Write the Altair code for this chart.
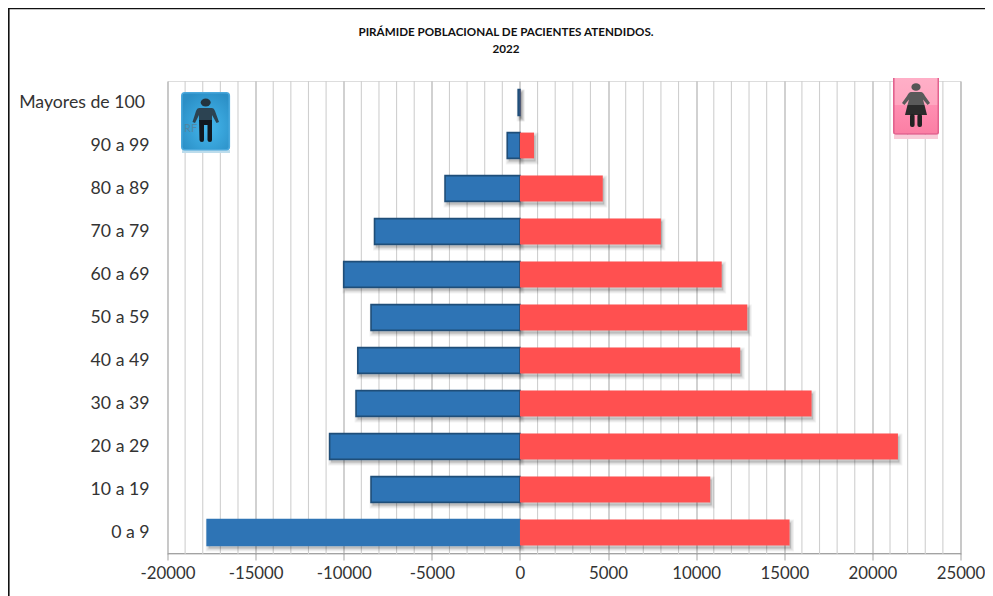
import urllib.parse
import altair as alt
import pandas as pd

ages = ["0 a 9", "10 a 19", "20 a 29", "30 a 39", "40 a 49", "50 a 59",
        "60 a 69", "70 a 79", "80 a 89", "90 a 99", "Mayores de 100"]
hombres = [-17750, -8450, -10800, -9300, -9200, -8450, -10000, -8250, -4250, -720, -100]
mujeres = [15300, 10800, 21450, 16550, 12500, 12900, 11450, 8000, 4700, 800, 10]
major_ticks = [-20000, -15000, -10000, -5000, 0, 5000, 10000, 15000, 20000, 25000]
minor_ticks = [-19000, -18000, -17000, -16000, -14000, -13000, -12000, -11000, -9000, -8000,
               -7000, -6000, -4000, -3000, -2000, -1000, 1000, 2000, 3000, 4000, 6000, 7000,
               8000, 9000, 11000, 12000, 13000, 14000, 16000, 17000, 18000, 19000, 21000,
               22000, 23000, 24000]
title_lines = ["PIRÁMIDE POBLACIONAL DE  PACIENTES ATENDIDOS.", "2022"]

FONT = "Lato"
INK = "#333333"

df = pd.DataFrame({"edad": ages, "hombres": hombres, "mujeres": mujeres, "cero": [0] * len(ages)})

man_svg = """<svg xmlns='http://www.w3.org/2000/svg' width='50' height='62' viewBox='0 0 50 62'>
<defs><radialGradient id='g' cx='.55' cy='.6' r='.65'><stop offset='0' stop-color='#45b8ee'/><stop offset='1' stop-color='#2b8fc6'/></radialGradient></defs>
<rect x='1' y='58' width='48' height='3' fill='#bcdcec'/>
<rect x='.8' y='.8' width='47.5' height='57' rx='3' fill='url(#g)' stroke='#4aa8dc' stroke-width='1.6'/>
<ellipse cx='24.7' cy='10.5' rx='5' ry='4' fill='#24343f'/>
<path d='M18 16 H31 Q33 16 34 19 L38 30 L35.5 31 L31 23 V29 H18 V23 L14 31 L11.5 30 L15 19 Q16 16 18 16 Z' fill='#2c4352'/>
<path d='M18 28 H31 V48 Q31 50 29 50 Q26.5 50 26.5 48 V33 H23 V48 Q23 50 21 50 Q18.5 50 18.5 48 Z' fill='#111820'/>
</svg>"""

woman_svg = """<svg xmlns='http://www.w3.org/2000/svg' width='46' height='62' viewBox='0 0 46 62'>
<defs><linearGradient id='p' x1='0' y1='0' x2='0' y2='1'><stop offset='0' stop-color='#ffb0c8'/><stop offset='.5' stop-color='#ffa6c0'/><stop offset='.51' stop-color='#ff8fb2'/><stop offset='1' stop-color='#fb7ea4'/></linearGradient></defs>
<rect x='1' y='57' width='44' height='4' fill='#f8cbd8'/>
<rect x='.8' y='-3' width='44.5' height='59' rx='2' fill='url(#p)' stroke='#e2628e' stroke-width='1.6'/>
<ellipse cx='23' cy='9' rx='4.6' ry='3.8' fill='#555555'/>
<path d='M18 14 H28 Q30 14 32 18 L37 25 L34.6 27 L30 21.5 L31.5 27 H14.5 L16 21.5 L11.4 27 L9 25 L14 18 Q16 14 18 14 Z' fill='#5a5a5a'/>
<path d='M14.5 27 H31.5 L34 37 H12 Z' fill='#2b2b2b'/>
<rect x='17' y='36' width='4.6' height='13' rx='2' fill='#222'/>
<rect x='24.4' y='36' width='4.6' height='13' rx='2' fill='#222'/>
</svg>"""


def data_uri(svg):
    return "data:image/svg+xml," + urllib.parse.quote(svg.replace("\n", ""))


x_scale = alt.Scale(domain=[-20000, 25000], nice=False, zero=False)
y_scale = alt.Scale(domain=ages[::-1], paddingInner=0.4, paddingOuter=0.2)


def X(f):
    return alt.X(f, type="quantitative", scale=x_scale, title=None, stack=None)


x_axis = alt.Axis(values=major_ticks, grid=True, gridColor="#a3a3a3", gridWidth=1, offset=-1,
                  domain=True, domainColor="#a3a3a3", domainWidth=1.2,
                  ticks=True, tickColor="#a3a3a3", tickSize=7, tickWidth=1,
                  labelFont=FONT, labelFontSize=16.8, labelColor=INK, labelPadding=5,
                  labelOverlap=False, labelFlush=False, labelExpr="'' + datum.value", title=None)
y_axis = alt.Axis(ticks=False, domain=False, grid=False, labelFont=FONT, labelFontSize=17.7,
                  labelColor=INK, labelPadding=18.5, title=None, labelOverlap=False,
                  labelExpr=f"datum.value == '{ages[-1]}' ? '' : datum.label")

minor = alt.Chart(pd.DataFrame({"v": minor_ticks})).mark_rule(color="#cfcfcf", strokeWidth=1.1).encode(
    x=alt.X("v:Q", scale=x_scale, title=None, axis=x_axis))
base = alt.Chart(df)
Y = alt.Y("edad:N", scale=y_scale, sort=ages[::-1], axis=y_axis, title=None)


def shadow(field, spread):
    return base.mark_bar(fill="#000000", fillOpacity=0.05, stroke="#000000", strokeOpacity=0.05,
                         strokeWidth=spread, xOffset=1.5, x2Offset=1.5, yOffset=3, y2Offset=3).encode(
        x=X(field), x2="cero:Q", y=Y)


male = base.mark_bar(fill="#2e74b5", strokeWidth=1.6).encode(
    x=X("hombres"), x2="cero:Q", y=Y,
    stroke=alt.condition(alt.datum.edad == "0 a 9", alt.value("#2e74b5"), alt.value("#1f4e79")))
female = base.mark_bar(fill="#ff5050").encode(x=X("mujeres"), x2="cero:Q", y=Y)

top_label = alt.Chart(pd.DataFrame({"edad": [ages[-1]]})).mark_text(
    font=FONT, fontSize=17.7, color=INK, align="right", baseline="middle").encode(
    text="edad:N", x=alt.value(-22.5), y=Y)


def icon(svg, px, py, w, h):
    return alt.Chart(pd.DataFrame({"u": [data_uri(svg)]})).mark_image(
        width=w, height=h, align="left", baseline="top").encode(
        url="u:N", x=alt.value(px), y=alt.value(py))


def faint(text, px, py):
    return alt.Chart(pd.DataFrame({"t": [text]})).mark_text(
        font=FONT, fontSize=11, color="#5a7f95", opacity=0.75, align="left").encode(
        text="t:N", x=alt.value(px), y=alt.value(py))


def title_text(text, py):
    return alt.Chart(pd.DataFrame({"t": [text]})).mark_text(
        font=FONT, fontSize=11.65, fontWeight="bold", color="#111111", align="center", baseline="middle").encode(
        text="t:N", x=alt.value(338.5), y=alt.value(py))


frame_top = alt.Chart(pd.DataFrame({"a": [0]})).mark_rule(color="#111111", strokeWidth=1.6).encode(
    x=alt.value(-159.5), x2=alt.value(817.5), y=alt.value(-72.5))
frame_left = alt.Chart(pd.DataFrame({"a": [0]})).mark_rule(color="#111111", strokeWidth=1.6).encode(
    x=alt.value(-158.7), y=alt.value(-73), y2=alt.value(515))

chart = alt.layer(
    minor,
    shadow("hombres", 6), shadow("hombres", 4), shadow("hombres", 2),
    shadow("mujeres", 6), shadow("mujeres", 4), shadow("mujeres", 2),
    male, female, top_label,
    icon(man_svg, 13.5, 11, 50, 62), faint("RF", 16.5, 48),
    icon(woman_svg, 725.5, -3, 46, 62),
    title_text(title_lines[0], -48), title_text(title_lines[1], -31),
    frame_top, frame_left,
).properties(
    width=793, height=473,
    padding={"left": 159.5, "top": 73, "right": 24.5, "bottom": 42},
    autosize=alt.AutoSizeParams(type="none"),
).configure_view(stroke="transparent", strokeWidth=0).configure(background="white")

chart.save("out.html", embed_options={"renderer": "svg", "actions": False})
